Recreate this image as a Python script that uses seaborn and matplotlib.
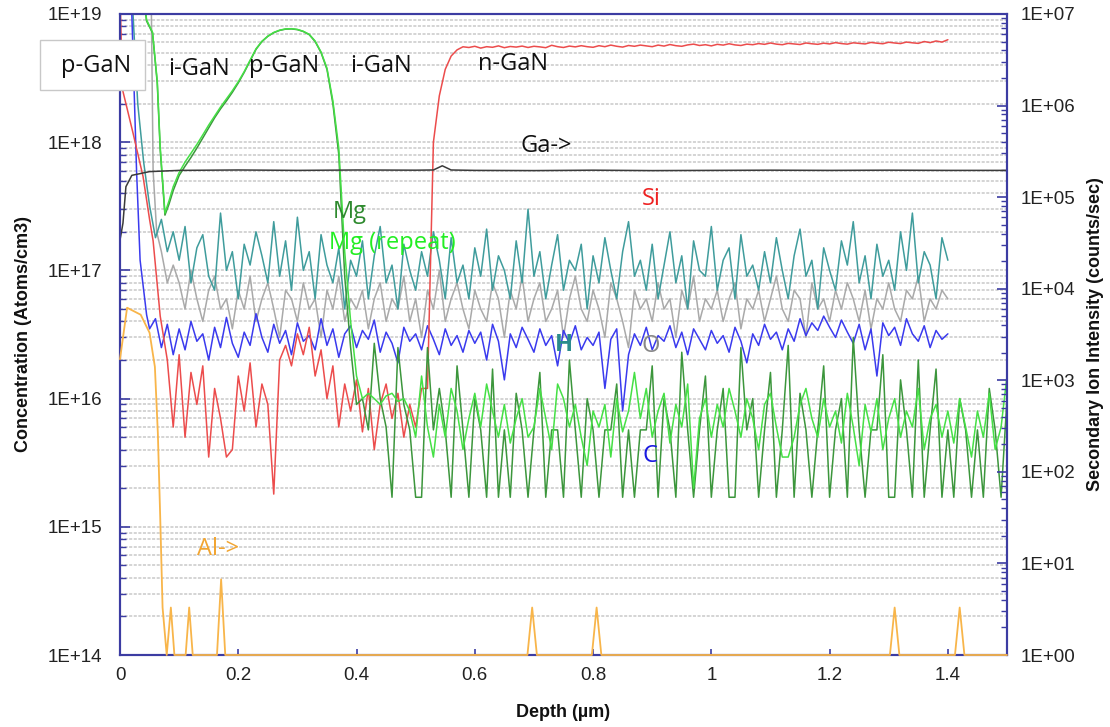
import numpy as np
import pandas as pd
import matplotlib
matplotlib.use("Agg")
import matplotlib.pyplot as plt
import matplotlib.ticker as mticker
from matplotlib.patches import Rectangle
import seaborn as sns

# ---------------- data ----------------
UNIT = 1e16  # concentration lists below are in units of 1E+16 atoms/cm3

depth_grid = [
    0.10, 0.11, 0.12, 0.13, 0.14, 0.15, 0.16, 0.17, 0.18, 0.19,
    0.20, 0.21, 0.22, 0.23, 0.24, 0.25, 0.26, 0.27, 0.28, 0.29,
    0.30, 0.31, 0.32, 0.33, 0.34, 0.35, 0.36, 0.37, 0.38, 0.39,
    0.40, 0.41, 0.42, 0.43, 0.44, 0.45, 0.46, 0.47, 0.48, 0.49,
    0.50, 0.51, 0.52, 0.53, 0.54, 0.55, 0.56, 0.57, 0.58, 0.59,
    0.60, 0.61, 0.62, 0.63, 0.64, 0.65, 0.66, 0.67, 0.68, 0.69,
    0.70, 0.71, 0.72, 0.73, 0.74, 0.75, 0.76, 0.77, 0.78, 0.79,
    0.80, 0.81, 0.82, 0.83, 0.84, 0.85, 0.86, 0.87, 0.88, 0.89,
    0.90, 0.91, 0.92, 0.93, 0.94, 0.95, 0.96, 0.97, 0.98, 0.99,
    1.00, 1.01, 1.02, 1.03, 1.04, 1.05, 1.06, 1.07, 1.08, 1.09,
    1.10, 1.11, 1.12, 1.13, 1.14, 1.15, 1.16, 1.17, 1.18, 1.19,
    1.20, 1.21, 1.22, 1.23, 1.24, 1.25, 1.26, 1.27, 1.28, 1.29,
    1.30, 1.31, 1.32, 1.33, 1.34, 1.35, 1.36, 1.37, 1.38, 1.39,
    1.40, 1.41, 1.42, 1.43, 1.44, 1.45, 1.46, 1.47, 1.48, 1.49,
    1.50,
]

# H (teal)
H_surf_depth = [0.0, 0.012, 0.022, 0.03, 0.04, 0.05, 0.06, 0.07, 0.08, 0.09]
H_surf = [3000, 3000, 1000, 200, 70, 32, 18, 25, 14, 20]
H_bulk = [
    12, 22, 8, 15, 19, 9, 7, 28, 10, 14,
    6, 16, 11, 20, 13, 8, 24, 9, 17, 7,
    26, 10, 14, 6, 19, 11, 8, 15, 5, 12,
    9, 17, 6, 13, 22, 8, 11, 5, 16, 10,
    7, 14, 9, 20, 12, 6, 18, 8, 11, 6,
    15, 9, 21, 7, 13, 10, 6, 17, 8, 30,
    9, 14, 6, 11, 19, 7, 12, 10, 16, 5,
    13, 8, 18, 10, 6, 14, 24, 9, 12, 7,
    16, 6, 11, 20, 8, 13, 5, 17, 10, 9,
    22, 7, 12, 15, 6, 19, 9, 11, 7, 14,
    8, 18, 10, 6, 13, 21, 9, 12, 5, 15,
    10, 7, 17, 11, 24, 8, 13, 6, 16, 9,
    12, 7, 20, 10, 28, 8, 14, 11, 6, 18,
    12,
]

# O (grey)
O_surf_depth = [0.0, 0.052, 0.056, 0.062, 0.07, 0.08, 0.09]
O_surf = [3000, 3000, 60, 20, 14, 8, 11]
O_bulk = [
    8, 5, 10, 6, 4, 7, 9, 5, 6, 3.5,
    7, 5, 9, 4, 6, 8, 5, 3, 7, 6,
    4, 8, 5, 6, 3, 7, 5, 9, 4, 6,
    5, 7, 3.5, 6, 8, 4, 6, 5, 9, 4,
    6, 3, 7, 5, 10, 4, 6, 8, 5, 3.5,
    7, 5, 4, 8, 6, 3, 7, 5, 9, 4,
    6, 8, 4, 5, 7, 3, 6, 9, 5, 4,
    7, 5, 3, 8, 6, 4, 2.5, 7, 5, 6,
    4, 8, 5, 6, 3, 7, 5, 9, 4, 6,
    5, 7, 4, 6, 8, 3.5, 6, 5, 7, 4,
    6, 9, 5, 4, 7, 6, 3, 8, 5, 6,
    4, 7, 5, 8, 6, 4, 7, 3.5, 6, 5,
    8, 5, 4, 7, 6, 9, 4, 6, 5, 7,
    6,
]

# C (blue)
C_surf_depth = [0.0, 0.02, 0.028, 0.034, 0.045, 0.05, 0.06, 0.07, 0.08, 0.09]
C_surf = [3000, 1000, 60, 12, 4.5, 3.5, 4.2, 2.5, 3.8, 2.2]
C_bulk = [
    3.5, 2.4, 4.0, 2.8, 3.2, 2.0, 3.6, 2.5, 4.3, 2.7,
    2.1, 3.3, 2.6, 4.6, 3.0, 2.3, 3.8, 2.7, 3.4, 2.2,
    3.9, 2.8, 3.1, 2.4, 4.2, 2.6, 3.5, 2.1, 3.2, 3.7,
    2.5, 3.4, 2.9, 4.1, 2.3, 3.3, 2.7, 1.9, 3.6, 2.8,
    3.2, 2.4, 3.7, 2.9, 2.2, 3.5, 2.6, 3.1, 2.3, 3.4,
    2.7, 3.3, 2.0, 3.8, 2.8, 1.4, 3.2, 2.5, 3.6, 2.9,
    2.3, 3.5, 2.6, 3.1, 1.8, 3.4, 2.7, 3.7, 2.4, 3.0,
    2.6, 3.3, 1.2, 2.9, 3.5, 0.8, 2.2, 3.2, 2.6, 3.6,
    2.4, 3.1, 2.8, 3.7, 2.5, 3.3, 2.2, 3.5, 2.9, 2.4,
    3.4, 2.7, 3.1, 2.3, 3.6, 2.8, 1.9, 3.2, 2.6, 3.8,
    2.9, 3.3, 2.4, 3.5, 2.8, 4.2, 3.1, 3.9, 3.4, 4.4,
    3.6, 3.0, 4.1, 3.3, 2.7, 3.8, 2.4, 3.5, 1.5, 3.9,
    3.1, 3.6, 2.6, 4.2, 3.2, 2.8, 3.7, 2.5, 3.4, 2.9,
    3.2,
]

# Si (red)
Si_surf_depth = [0.0, 0.004, 0.022, 0.039, 0.05, 0.056, 0.068, 0.08, 0.09]
Si_surf = [1500, 260, 118, 54, 25, 17, 4.4, 2.0, 0.6]
Si_bulk = [
    2.2, 0.5, 1.6, 0.9, 1.8, 0.35, 1.2, 0.7, 0.35, 0.4,
    1.5, 0.8, 1.9, 0.6, 1.3, 0.9, 0.18, 2.0, 2.6, 1.8,
    3.2, 2.2, 3.6, 1.5, 2.4, 1.0, 1.8, 0.6, 1.3, 0.8,
    1.4, 0.55, 1.2, 0.4, 0.9, 1.3, 0.7, 1.1, 0.5, 0.9,
    0.6, 1.2,
    1.2, 100, 230, 370, 470, 525, 555,
    548, 560, 542, 556, 550, 564, 546, 558, 552, 562,
    548, 560, 554, 546, 570, 556, 548, 562, 554, 566,
    556, 550, 566, 556, 572, 560, 552, 568, 560, 572,
    564, 556, 572, 562, 578, 566, 560, 574, 582, 568,
    576, 564, 580, 572, 586, 574, 568, 582, 576, 588,
    580, 594, 582, 576, 590, 584, 578, 594, 586, 580,
    592, 584, 598, 588, 582, 596, 590, 584, 600, 592,
    586, 602, 594, 588, 604, 596, 590, 610, 598, 616,
    604, 630,
]

# Mg and Mg (repeat) (greens)
Mg_surf_depth = [0.0, 0.03, 0.045, 0.055, 0.063, 0.068, 0.076, 0.083, 0.09]
Mg_surf = [3000, 3000, 880, 711, 290, 87, 27, 33, 42]
MgR_surf = [3000, 3000, 900, 720, 300, 92, 28, 35, 45]
Mg_bulk = [
    55, 65, 76, 90, 108, 130, 155, 182, 210, 245,
    290, 350, 430, 530, 610, 670, 715, 745, 762, 765,
    755, 730, 690, 610, 500, 370, 200, 80, 9, 2.5,
    0.9,
    1.0, 0.57, 2.7, 1.0, 0.6, 0.17, 2.5, 0.9, 0.57, 0.17,
    0.17, 2.5, 0.57, 1.2, 0.57, 0.17, 1.8, 0.57, 0.17, 1.0,
    0.57, 0.17, 1.7, 0.17, 0.57, 0.17, 1.1, 0.57, 0.17, 0.57,
    1.6, 0.17, 0.57, 0.57, 0.17, 2.0, 0.57, 0.17, 1.0, 0.57,
    0.17, 0.57, 0.57, 1.3, 0.17, 0.57, 0.17, 0.57, 0.57, 1.8,
    0.17, 1.0, 0.57, 0.17, 2.3, 0.57, 0.17, 0.57, 1.5, 0.17,
    0.57, 1.2, 0.17, 0.17, 2.5, 0.57, 1.0, 0.17, 0.57, 1.6,
    0.17, 0.57, 2.6, 0.17, 1.1, 0.57, 0.17, 0.57, 1.8, 0.17,
    0.57, 1.0, 0.17, 3.0, 0.57, 0.17, 0.57, 0.57, 2.2, 0.17,
    0.17, 1.4, 0.57, 0.17, 2.0, 0.17, 0.57, 1.7, 0.17, 0.57,
    0.17, 1.0, 0.57, 0.17, 0.57, 0.17, 1.2, 0.57, 0.17, 1.0,
]
MgR_bulk = [
    58, 70, 82, 96, 114, 136, 160, 188, 218, 252,
    296, 355, 435, 535, 612, 672, 718, 748, 765, 768,
    758, 733, 694, 615, 505, 378, 210, 90, 14, 4,
    1.5,
    1.0, 1.1, 1.0, 0.9, 1.05, 1.1, 0.95, 1.0, 0.8, 0.5,
    1.5, 0.6, 0.35, 0.9, 0.5, 1.2, 0.8, 0.4, 0.7, 1.1,
    0.6, 1.3, 0.8, 0.5, 0.9, 0.45, 0.7, 1.0, 0.5, 0.6,
    1.2, 0.7, 0.4, 1.3, 1.0, 0.6, 0.9, 0.5, 0.3, 0.8,
    0.6, 0.9, 0.35, 1.0, 0.55, 0.8, 1.6, 0.7, 1.2, 0.5,
    0.8, 1.1, 0.45, 0.9, 0.6, 1.3, 0.2, 0.7, 1.0, 0.5,
    0.9, 0.6, 1.2, 0.8, 0.5, 1.0, 0.7, 0.4, 0.9, 1.1,
    0.6, 0.35, 0.35, 0.5, 0.9, 1.2, 0.7, 0.5, 1.0, 0.6,
    0.8, 0.45, 1.1, 0.6, 0.3, 0.9, 0.55, 1.0, 0.4, 0.7,
    1.0, 0.5, 0.8, 0.6, 1.2, 0.4, 0.7, 0.9, 0.5, 0.8,
    0.45, 1.0, 0.6, 0.35, 0.8, 0.5, 1.1, 0.4, 0.6, 1.5,
]

# Secondary ion intensities (counts/sec), right axis
Ga_depth = [0.0, 0.005, 0.01, 0.02, 0.05, 0.1, 0.2, 0.3, 0.4, 0.5, 0.53, 0.545,
            0.56, 0.6, 0.7, 0.8, 0.9, 1.0, 1.1, 1.2, 1.3, 1.4, 1.5]
Ga_cps = [3.4e4, 5.2e4, 1.3e5, 1.73e5, 1.9e5, 1.96e5, 1.98e5, 1.96e5, 1.98e5,
          1.97e5, 1.98e5, 2.2e5, 1.98e5, 1.96e5, 1.95e5, 1.97e5, 1.95e5, 1.96e5,
          1.97e5, 1.96e5, 1.97e5, 1.96e5, 1.96e5]
Al_depth = [0.0, 0.012, 0.035, 0.05, 0.059, 0.064, 0.068, 0.072, 0.079, 0.086,
            0.092, 0.111, 0.117, 0.123, 0.164, 0.171, 0.178, 0.689, 0.697, 0.705,
            0.798, 0.806, 0.814, 1.302, 1.31, 1.318, 1.412, 1.42, 1.428, 1.5]
Al_cps = [1700, 6200, 5200, 3300, 1400, 265, 32, 3.3, 1, 3.3,
          1, 1, 3.3, 1, 1, 6.7, 1, 1, 3.3, 1,
          1, 3.3, 1, 1, 3.3, 1, 1, 3.3, 1, 1]

x_ticks = [0, 0.2, 0.4, 0.6, 0.8, 1.0, 1.2, 1.4]
left_ticks = [1e14, 1e15, 1e16, 1e17, 1e18, 1e19]
right_ticks = [1e0, 1e1, 1e2, 1e3, 1e4, 1e5, 1e6, 1e7]


# ---------------- build frames ----------------
def profile(name, surf_d, surf_v, bulk_v):
    d = list(surf_d) + depth_grid[:len(bulk_v)]
    v = np.array(list(surf_v) + list(bulk_v), dtype=float) * UNIT
    return pd.DataFrame({"depth": d, "value": v, "element": name})


conc = pd.concat([
    profile("O", O_surf_depth, O_surf, O_bulk),
    profile("H", H_surf_depth, H_surf, H_bulk),
    profile("C", C_surf_depth, C_surf, C_bulk),
    profile("Si", Si_surf_depth, Si_surf, Si_bulk),
    profile("Mg", Mg_surf_depth, Mg_surf, Mg_bulk),
    profile("Mg (repeat)", Mg_surf_depth, MgR_surf, MgR_bulk),
], ignore_index=True)

ga_df = pd.DataFrame({"depth": Ga_depth, "value": Ga_cps})
al_df = pd.DataFrame({"depth": Al_depth, "value": Al_cps})

palette = {
    "O": "#a9a9a9",
    "H": "#3f9c9c",
    "C": "#3a3aee",
    "Si": "#ec4c4c",
    "Mg": "#3c963c",
    "Mg (repeat)": "#45e045",
    "Ga": "#3a3a3a",
    "Al": "#f8b54a",
}

# ---------------- figure ----------------
sns.set_style("white")
plt.rcParams["font.family"] = ["Liberation Sans", "DejaVu Sans"]

W, H = 1110, 727
fig = plt.figure(figsize=(W / 100, H / 100), dpi=100)
L, R, T, B = 120, 1007, 14, 655
ax = fig.add_axes([L / W, 1 - B / H, (R - L) / W, (B - T) / H])
ax.set_yscale("log")
ax.set_xlim(0, 1.5)
ax.set_ylim(1e14, 1e19)

sns.lineplot(data=conc, x="depth", y="value", hue="element", palette=palette,
             estimator=None, sort=False, legend=False, lw=1.1, ax=ax)

ax2 = ax.twinx()
ax2.set_yscale("log")
ax2.set_ylim(1, 1e7)
sns.lineplot(data=ga_df, x="depth", y="value", color=palette["Ga"],
             estimator=None, sort=False, legend=False, lw=1.1, ax=ax2)
sns.lineplot(data=al_df, x="depth", y="value", color=palette["Al"],
             estimator=None, sort=False, legend=False, lw=1.3, ax=ax2,
             zorder=4, clip_on=False)
ax2.set_xlim(0, 1.5)

spine_c = "#3c3ca2"
tick_c = "#222222"
for a in (ax, ax2):
    for s in a.spines.values():
        s.set_color(spine_c)
        s.set_linewidth(1.5)

# grid at left-axis log ticks
ax.yaxis.set_major_locator(mticker.FixedLocator(left_ticks))
ax.yaxis.set_minor_locator(mticker.LogLocator(base=10, subs=np.arange(2, 10)))
ax.yaxis.set_major_formatter(mticker.FuncFormatter(lambda v, p: "1E+%02d" % round(np.log10(v))))
ax.yaxis.set_minor_formatter(mticker.NullFormatter())
ax.grid(False)
ax.yaxis.grid(True, which="both", color="#c9c9c9", lw=1.1, linestyle=(0, (2, 1)))
ax.xaxis.grid(False)
ax.set_axisbelow(True)

ax2.yaxis.set_major_locator(mticker.FixedLocator(right_ticks))
ax2.yaxis.set_minor_locator(mticker.LogLocator(base=10, subs=np.arange(2, 10)))
ax2.yaxis.set_major_formatter(mticker.FuncFormatter(lambda v, p: "1E+%02d" % round(np.log10(v))))
ax2.yaxis.set_minor_formatter(mticker.NullFormatter())
ax2.grid(False)

ax.set_xticks(x_ticks)
ax.xaxis.set_major_formatter(mticker.FuncFormatter(lambda v, p: "%g" % v))

ax.tick_params(axis="y", which="major", direction="in", length=7, width=1.2,
               color=spine_c, labelsize=13.5, labelcolor=tick_c, pad=13, left=True)
ax.tick_params(axis="y", which="minor", direction="in", length=4, width=1.0,
               color=spine_c, left=True)
ax.tick_params(axis="x", which="major", direction="in", length=4, width=1.2,
               color=spine_c, labelsize=13.5, labelcolor=tick_c, pad=9, bottom=True)
ax2.tick_params(axis="y", which="major", direction="in", length=7, width=1.2,
                color=spine_c, labelsize=13.5, labelcolor=tick_c, pad=10, right=True)
ax2.tick_params(axis="y", which="minor", direction="in", length=4, width=1.0,
                color=spine_c, right=True)

ax.set_xlabel("Depth (µm)", fontsize=13, fontweight="bold", labelpad=14, color="#111111")
ax.set_ylabel("Concentration (Atoms/cm3)", fontsize=13, fontweight="bold",
              labelpad=11, color="#111111")
ax2.set_ylabel("Secondary Ion Intensity (counts/sec)", fontsize=13, fontweight="bold",
               labelpad=8, color="#111111")

# ---------------- annotations ----------------
ann_font = ["Open Sans", "DejaVu Sans"]
ANN_SIZE = 17
layer_labels = [("i-GaN", 0.134, 3.7e18), ("p-GaN", 0.277, 3.9e18),
                ("i-GaN", 0.441, 3.9e18), ("n-GaN", 0.664, 4.07e18)]
for txt, xd, yd in layer_labels:
    ax.text(xd, yd, txt, fontsize=ANN_SIZE, ha="center", va="center", color="#111111",
            family=ann_font, zorder=10)

species_labels = [
    ("Ga->", 0.720, 9.3e17, "#111111", "normal"),
    ("Si", 0.898, 3.6e17, "#ee2222", "normal"),
    ("Mg", 0.389, 2.85e17, "#2e8a2e", "normal"),
    ("Mg (repeat)", 0.46, 1.64e17, "#22ee22", "normal"),
    ("H", 0.751, 2.6e16, "#2a8c8c", "bold"),
    ("O", 0.898, 2.57e16, "#888888", "normal"),
    ("C", 0.896, 3.57e15, "#1a1ae0", "normal"),
    ("Al->", 0.166, 6.7e14, "#f2a531", "normal"),
]
for txt, xd, yd, c, fw in species_labels:
    ax.text(xd, yd, txt, fontsize=ANN_SIZE, ha="center", va="center", color=c,
            family=ann_font, fontweight=fw, zorder=10)

# boxed "p-GaN" label at the top left
box = Rectangle((40 / W, 1 - 90 / H), 105 / W, 50 / H, transform=fig.transFigure,
                facecolor="white", edgecolor="#c8c8c8", lw=1.0, zorder=20)
fig.add_artist(box)
fig.text(96 / W, 1 - 66 / H, "p-GaN", fontsize=ANN_SIZE, ha="center", va="center",
         color="#111111", family=ann_font, zorder=21)

fig.savefig("out.png", dpi=100)
